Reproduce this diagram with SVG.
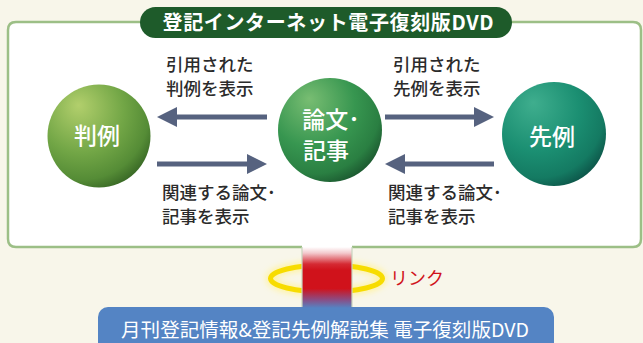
<svg xmlns="http://www.w3.org/2000/svg" width="643" height="343" viewBox="0 0 643 343">
<defs>
<style>
.lbl{font-family:"Noto Sans CJK JP","Noto Sans",sans-serif;font-size:17.5px;fill:#2b2b2b;font-weight:500}
.node{font-family:"Noto Sans CJK JP","Noto Sans",sans-serif;font-size:23px;fill:#ffffff;text-anchor:middle;font-weight:500}
.arr{stroke:#56627f;stroke-width:5;fill:none}
.frame{stroke:#9cbf86;stroke-width:2.5;fill:none}
</style>
<marker id="ah" viewBox="0 0 20 20" refX="10" refY="10" markerWidth="20" markerHeight="20" markerUnits="userSpaceOnUse" orient="auto">
<path d="M0,0 L20,10 L0,20 Z" fill="#56627f"/>
</marker>
<radialGradient id="gL" cx="0.35" cy="0.3" r="0.75" fx="0.3" fy="0.2">
<stop offset="0" stop-color="#b2cf6c"/>
<stop offset="0.55" stop-color="#72a646"/>
<stop offset="0.85" stop-color="#558c36"/>
<stop offset="1" stop-color="#3a6a26"/>
</radialGradient>
<radialGradient id="gM" cx="0.35" cy="0.3" r="0.75" fx="0.3" fy="0.2">
<stop offset="0" stop-color="#78bd72"/>
<stop offset="0.55" stop-color="#379650"/>
<stop offset="0.85" stop-color="#2a7f42"/>
<stop offset="1" stop-color="#1c5a30"/>
</radialGradient>
<radialGradient id="gR" cx="0.35" cy="0.3" r="0.75" fx="0.3" fy="0.2">
<stop offset="0" stop-color="#3fae8e"/>
<stop offset="0.55" stop-color="#1b8f72"/>
<stop offset="0.85" stop-color="#147a62"/>
<stop offset="1" stop-color="#0d574a"/>
</radialGradient>
<linearGradient id="stem" x1="0" y1="0" x2="0" y2="1">
<stop offset="0" stop-color="#ffffff"/>
<stop offset="0.1" stop-color="#f3c9cd"/>
<stop offset="0.28" stop-color="#d52a33"/>
<stop offset="0.38" stop-color="#d0121b"/>
<stop offset="0.68" stop-color="#d0121b"/>
<stop offset="0.86" stop-color="#8c4c82"/>
<stop offset="1" stop-color="#5484c4"/>
</linearGradient>
<filter id="glow" x="-30%" y="-100%" width="160%" height="300%">
<feGaussianBlur stdDeviation="3"/>
</filter>
</defs>
<rect width="643" height="343" fill="#f8f6ea"/>
<g id="frame">
<path d="M302,247 L16,247 Q8,247 8,239 L8,30 Q8,22 16,22 L633,22 Q641,22 641,30 L641,239 Q641,247 633,247 L352,247 L352,308 L302,308 Z" fill="#ffffff" stroke="none"/>
<path class="frame" d="M302,247 L16,247 Q8,247 8,239 L8,30 Q8,22 16,22 L633,22 Q641,22 641,30 L641,239 Q641,247 633,247 L352,247"/>
</g>
<g id="title">
<rect x="140" y="7" width="372" height="31" rx="15.5" fill="#1e5b2a"/>
<text x="328" y="30" text-anchor="middle" textLength="331" lengthAdjust="spacing" style="font-family:'Noto Sans CJK JP','Noto Sans',sans-serif;font-size:20px;font-weight:bold;fill:#ffffff">登記インターネット電子復刻版DVD</text>
</g>
<g id="node-hanrei">
<circle cx="99" cy="136" r="51.5" fill="url(#gL)"/>
<text class="node" x="97" y="144">判例</text>
</g>
<g id="node-ronbun">
<circle cx="330" cy="130" r="52" fill="url(#gM)"/>
<text class="node" x="331" y="128">論文･</text>
<text class="node" x="326" y="159">記事</text>
</g>
<g id="node-senrei">
<circle cx="554" cy="134" r="52" fill="url(#gR)"/>
<text class="node" x="552" y="145">先例</text>
</g>
<g id="connectors">
<line class="arr" x1="267" y1="117" x2="167" y2="117" marker-end="url(#ah)"/>
<line class="arr" x1="157" y1="164" x2="257" y2="164" marker-end="url(#ah)"/>
<line class="arr" x1="385" y1="117" x2="484" y2="117" marker-end="url(#ah)"/>
<line class="arr" x1="494" y1="164" x2="395" y2="164" marker-end="url(#ah)"/>
</g>
<g id="labels">
<text class="lbl" x="166" y="71">引用された</text>
<text class="lbl" x="166" y="95">判例を表示</text>
<text class="lbl" x="393" y="71">引用された</text>
<text class="lbl" x="393" y="95">先例を表示</text>
<text class="lbl" x="162" y="199">関連する論文･</text>
<text class="lbl" x="162" y="223">記事を表示</text>
<text class="lbl" x="388" y="199">関連する論文･</text>
<text class="lbl" x="388" y="223">記事を表示</text>
</g>
<g id="link">
<ellipse cx="326.5" cy="278.5" rx="56" ry="13.5" fill="none" stroke="#fff3a0" stroke-width="9" filter="url(#glow)"/>
<ellipse cx="326.5" cy="278.5" rx="56" ry="13.5" fill="none" stroke="#f7dc00" stroke-width="5"/>
</g>
<g id="node-dvd">
<rect x="98" y="307" width="456" height="50" rx="10" fill="#5484c4"/>
<text x="325" y="337" text-anchor="middle" textLength="408" lengthAdjust="spacingAndGlyphs" style="font-family:'Noto Sans CJK JP','Noto Sans',sans-serif;font-size:19px;fill:#ffffff">月刊登記情報&amp;登記先例解説集 電子復刻版DVD</text>
</g>
<g id="stem">
<rect x="302" y="247" width="50" height="61" fill="url(#stem)"/>
<line x1="302" y1="247" x2="302" y2="307" stroke="#c8d6bf" stroke-width="1.2"/>
<line x1="352" y1="247" x2="352" y2="307" stroke="#c8d6bf" stroke-width="1.2"/>
<text x="390" y="285" style="font-family:'Noto Sans CJK JP','Noto Sans',sans-serif;font-size:18px;fill:#d0121b">リンク</text>
</g>
</svg>
